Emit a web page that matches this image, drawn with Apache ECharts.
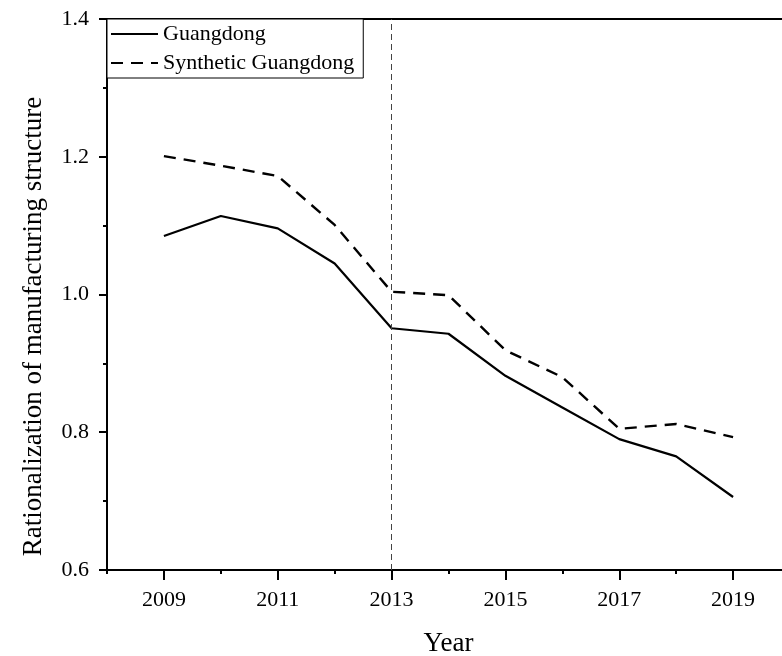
<!DOCTYPE html>
<html>
<head>
<meta charset="utf-8">
<script src="https://cdn.jsdelivr.net/npm/echarts@6/dist/echarts.min.js"></script>
<style>html,body{margin:0;padding:0;background:#fff;}#c{width:782px;height:656px;}</style>
</head>
<body>
<div id="c"></div>
<script>
var years = [2009, 2010, 2011, 2012, 2013, 2014, 2015, 2016, 2017, 2018, 2019];
var guangdong = [1.085, 1.114, 1.096, 1.045, 0.951, 0.943, 0.882, 0.836, 0.790, 0.765, 0.706];
var synthetic = [1.201, 1.187, 1.172, 1.101, 1.004, 0.999, 0.919, 0.880, 0.805, 0.812, 0.793];
var majorYears = [2009, 2011, 2013, 2015, 2017, 2019];
var treatmentYear = 2013;
var seriesNames = ['Guangdong', 'Synthetic Guangdong'];

var FONT = '"Liberation Serif", "Times New Roman", serif';
function pairs(vals) { return years.map(function (y, i) { return [y, vals[i]]; }); }

var chart = echarts.init(document.getElementById('c'), null, {renderer: 'canvas'});
chart.setOption({
  animation: false,
  backgroundColor: '#fff',
  textStyle: {fontFamily: FONT, color: '#000'},
  grid: {left: 107, top: 19, bottom: 86, right: -8, outerBoundsMode: 'none', containLabel: false, show: false},
  legend: {
    orient: 'vertical', left: 107, top: 19,
    padding: [4, 9, 4, 3], itemGap: 7,
    itemWidth: 47, itemHeight: 14,
    borderColor: '#000', borderWidth: 1,
    backgroundColor: '#fff',
    itemStyle: {color: 'rgba(0,0,0,0)', borderColor: 'rgba(0,0,0,0)', borderWidth: 0},
    textStyle: {fontFamily: FONT, fontSize: 22, color: '#000'},
    data: seriesNames
  },
  xAxis: [{
    type: 'value', min: 2008, max: 2020, interval: 1,
    position: 'bottom',
    name: 'Year', nameLocation: 'middle', nameGap: 60,
    nameTextStyle: {fontFamily: FONT, fontSize: 27, color: '#000'},
    axisLine: {show: true, lineStyle: {color: '#000', width: 2}},
    axisTick: {show: true, length: 4, lineStyle: {color: '#000', width: 2}},
    axisLabel: {
      margin: 19, fontFamily: FONT, fontSize: 22, color: '#000',
      formatter: function (v) { return majorYears.indexOf(v) >= 0 ? String(v) : ''; }
    },
    splitLine: {show: false}
  }, {
    type: 'value', min: 2008, max: 2020, interval: 1,
    position: 'bottom', offset: 0,
    axisLine: {show: false},
    axisTick: {show: true, length: 10, customValues: majorYears, lineStyle: {color: '#000', width: 2}},
    axisLabel: {show: false},
    splitLine: {show: false}
  }, {
    type: 'value', min: 2008, max: 2020, interval: 1,
    position: 'top', offset: 0,
    axisLine: {show: true, lineStyle: {color: '#000', width: 2}},
    axisTick: {show: false},
    axisLabel: {show: false},
    splitLine: {show: false}
  }],
  yAxis: {
    type: 'value', min: 0.6, max: 1.4, interval: 0.2,
    name: 'Rationalization of manufacturing structure',
    nameLocation: 'middle', nameGap: 60,
    nameTextStyle: {fontFamily: FONT, fontSize: 27, color: '#000', padding: [0, 64, 0, 0]},
    axisLine: {show: true, lineStyle: {color: '#000', width: 2}},
    axisTick: {show: true, length: 8, lineStyle: {color: '#000', width: 2}},
    minorTick: {show: true, splitNumber: 2, length: 4, lineStyle: {color: '#000', width: 2}},
    axisLabel: {
      margin: 18, fontFamily: FONT, fontSize: 22, color: '#000',
      formatter: function (v) { return v.toFixed(1); }
    },
    splitLine: {show: false}
  },
  series: [{
    name: seriesNames[0], type: 'line', xAxisIndex: 0,
    data: pairs(guangdong),
    symbol: 'none', showSymbol: false,
    lineStyle: {color: '#000', width: 2.2, type: 'solid'},
    itemStyle: {color: '#000'},
    markLine: {
      silent: true, symbol: 'none',
      label: {show: false},
      lineStyle: {color: '#444', width: 1, type: [6, 4]},
      data: [{xAxis: treatmentYear}]
    }
  }, {
    name: seriesNames[1], type: 'line', xAxisIndex: 0,
    data: pairs(synthetic),
    symbol: 'none', showSymbol: false,
    lineStyle: {color: '#000', width: 2.4, type: [12, 8]},
    itemStyle: {color: '#000'}
  }]
});
</script>
</body>
</html>
